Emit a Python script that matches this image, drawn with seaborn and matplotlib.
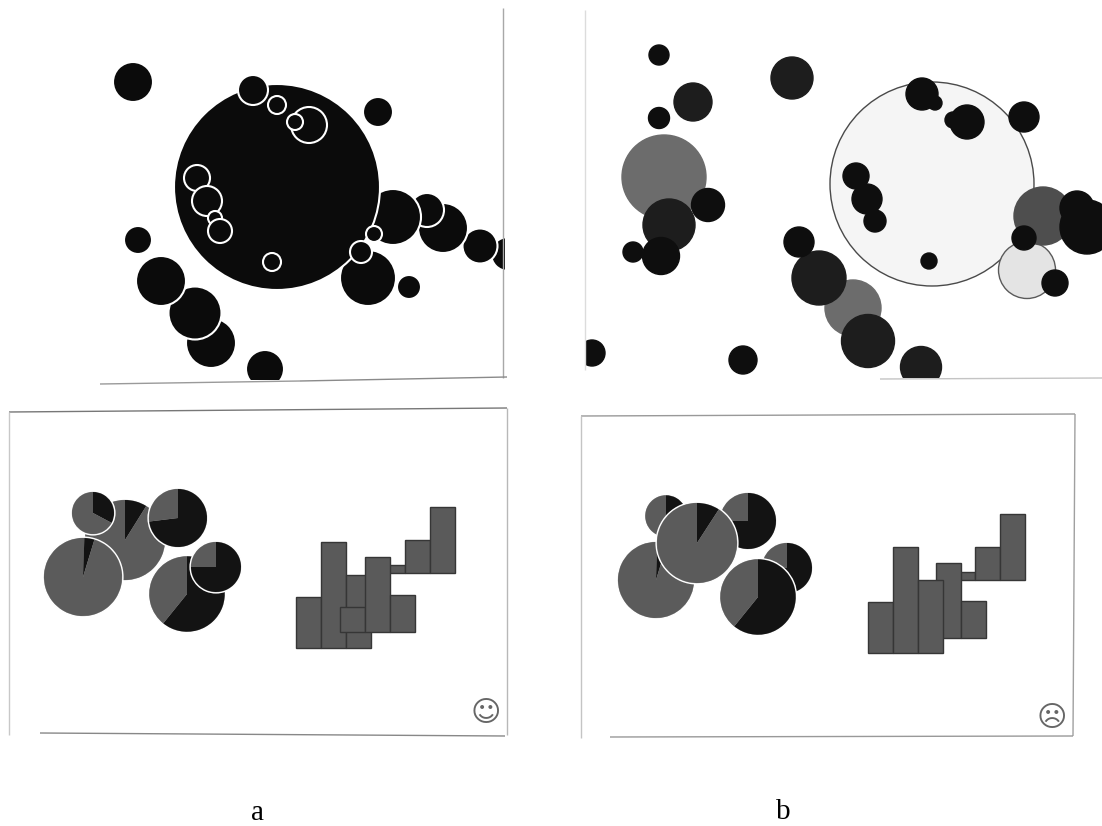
import matplotlib
matplotlib.use("Agg")
import matplotlib.pyplot as plt
from matplotlib.patches import Rectangle
import pandas as pd
import seaborn as sns

W, H = 1102, 826

# Panel a, circles in drawing order (pixel-scale measures)
a_x = [508, 480, 443, 427, 393, 368, 211, 195, 161, 138, 133, 378, 409, 265,
       277, 253, 277, 309, 295, 197, 207, 215, 220, 272, 374, 361]
a_y = [254, 246, 228, 210, 217, 278, 343, 313, 281, 240, 82, 112, 287, 369,
       187, 90, 105, 125, 122, 178, 201, 218, 231, 262, 234, 252]
a_r = [17, 17.5, 25, 17, 28, 28, 25, 26.5, 25, 14, 20, 15, 12, 19,
       103, 15, 9, 18, 8, 13, 15, 7, 12, 9, 8, 11]

# Panel b, circles in drawing order
b_x = [932, 1027, 1043, 1087, 1077, 1024, 1055, 922, 935, 967, 953, 1024, 856, 867, 875, 929,
       664, 708, 669, 633, 661, 659, 693, 659, 792,
       853, 819, 868, 799, 921, 743, 592]
b_y = [184, 270, 216, 227, 208, 238, 283, 94, 103, 122, 120, 117, 176, 199, 221, 261,
       177, 205, 225, 252, 256, 55, 102, 118, 78,
       308, 278, 341, 242, 367, 360, 353]
b_r = [102, 28.5, 29, 27, 17, 12, 13, 16, 7, 17, 8, 15, 13, 15, 11, 8,
       42, 16.5, 26, 10, 18.5, 10, 19, 10.5, 21,
       28, 27, 26.5, 15, 20.5, 14, 13]
b_tone = ["light", "pale", "mid", "black", "black", "black", "black", "black", "black",
          "black", "black", "black", "black", "black", "black", "black",
          "gray", "black", "dark", "black", "black", "black", "dark", "black", "dark",
          "gray", "dark", "dark", "black", "dark", "black", "black"]
tone_colors = {"black": "#0e0e0e", "dark": "#1d1d1d", "mid": "#4e4e4e",
               "gray": "#6c6c6c", "pale": "#e4e4e4", "light": "#f5f5f5"}
tone_edges = {"black": "#0e0e0e", "dark": "#1d1d1d", "mid": "#4e4e4e",
              "gray": "#6c6c6c", "pale": "#5a5a5a", "light": "#4a4a4a"}

# Lower panels: pies as (dark share in degrees clockwise from north)
pie_a_x = [125, 93, 83, 178, 187, 216]
pie_a_y = [540, 513, 577, 518, 594, 567]
pie_a_r = [40, 21, 39, 29, 37.7, 25]
pie_a_dark = [32, 118, 17, 263, 219, 270]
pie_a_skip = [0, 0, 2, 0, 0, 0]

pie_b_x = [748, 666, 656, 697, 787, 758]
pie_b_y = [521, 516, 580, 543, 568, 597]
pie_b_r = [28, 20.7, 38, 40, 25, 37.7]
pie_b_dark = [270, 60, 17, 33, 270, 219]
pie_b_skip = [0, 0, 2, 0, 0, 0]

# Lower panels: stepped histograms
hist_heights_1 = [51, 106, 73]
hist_heights_2 = [25, 75, 37]
hist_heights_3 = [8, 33, 66]
hist_a_left = [296, 340, 380]
hist_a_base = [648, 632, 573]
hist_b_left = [868, 911, 950]
hist_b_base = [653, 638, 580]

# Frame lines of the scanned panels: x0, y0, x1, y1, grey
frames = [
    (503, 8, 503, 378, "#a8a8a8"), (100, 384, 300, 381, "#9a9a9a"), (300, 381, 507, 377, "#8a8a8a"),
    (585, 10, 585, 370, "#dcdcdc"), (880, 379, 1102, 378, "#c4c4c4"),
    (9, 412, 507, 408, "#777777"), (9, 412, 9, 735, "#c8c8c8"), (507, 408, 507, 735, "#b8b8b8"),
    (40, 733, 505, 736, "#888888"),
    (581, 416, 1075, 414, "#999999"), (581, 416, 581, 738, "#c4c4c4"), (1075, 414, 1073, 736, "#a0a0a0"),
    (610, 737, 1073, 736, "#999999"),
]

sns.set_theme(style="white")
fig = plt.figure(figsize=(W / 100, H / 100), dpi=100, facecolor="white")


def pixel_axes(x0, y0, x1, y1):
    ax = fig.add_axes([x0 / W, 1 - y1 / H, (x1 - x0) / W, (y1 - y0) / H])
    ax.set_xlim(x0, x1)
    ax.set_ylim(y1, y0)
    ax.set_axis_off()
    ax.patch.set_alpha(0)
    return ax


def size_of(r):
    return (2 * r * 72 / 100) ** 2


def clip_to(ax, x0, y0, x1, y1):
    ax.set_xlim(x0, x1)
    ax.set_ylim(y1, y0)
    ax.set_axis_off()
    box = Rectangle((x0, y0), x1 - x0, y1 - y0, transform=ax.transData)
    for coll in ax.collections:
        coll.set_clip_path(box)


base = pixel_axes(0, 0, W, H)

# Panel a bubbles
ax_a = pixel_axes(90, 0, 505, 380)
df_a = pd.DataFrame({"x": a_x, "y": a_y, "r": a_r})
sns.scatterplot(data=df_a, x="x", y="y", s=[size_of(r) for r in a_r], color="#0b0b0b",
                edgecolor="white", linewidth=1.5, ax=ax_a, legend=False)
clip_to(ax_a, 90, 0, 505, 380)

# Panel b bubbles
ax_b = pixel_axes(586, 0, W, 378)
df_b = pd.DataFrame({"x": b_x, "y": b_y, "r": b_r, "tone": b_tone})
sns.scatterplot(data=df_b, x="x", y="y", hue="tone", palette=tone_colors,
                s=[size_of(r) for r in b_r], edgecolor=[tone_edges[t] for t in b_tone],
                linewidth=1.0, ax=ax_b, legend=False)
clip_to(ax_b, 586, 0, W, 378)

# Lower pies and histograms
low = pixel_axes(0, 400, W, 745)


def draw_pies(xs, ys, rs, darks, skips):
    for x, y, r, d, s in zip(xs, ys, rs, darks, skips):
        low.pie([1], center=(x, y), radius=r + 0.9, colors=["#a8a8a8"], frame=True)
        values = [s, d - s, 360 - d]
        low.pie(values, center=(x, y), radius=r, colors=["#5b5b5b", "#131313", "#5b5b5b"],
                startangle=-90, counterclock=True, frame=True, wedgeprops={"linewidth": 0})


def draw_hist(lefts, bases, order):
    heights = [hist_heights_1, hist_heights_2, hist_heights_3]
    for i in order:
        xs = [lefts[i] + 25 * k for k in range(3)]
        h = heights[i]
        low.bar(xs, h, bottom=[bases[i] - v for v in h], width=25, align="edge",
                color="#5a5a5a", edgecolor="#363636", linewidth=1.0)


draw_pies(pie_a_x, pie_a_y, pie_a_r, pie_a_dark, pie_a_skip)
draw_pies(pie_b_x, pie_b_y, pie_b_r, pie_b_dark, pie_b_skip)
draw_hist(hist_a_left, hist_a_base, [2, 0, 1])
draw_hist(hist_b_left, hist_b_base, [2, 1, 0])
low.set_xlim(0, W)
low.set_ylim(745, 400)
low.set_aspect("auto")
low.set_axis_off()

# Top layer: paper margins that trim the bubbles, frame lines, icons and letters
top = pixel_axes(0, 0, W, H)
top.add_patch(Rectangle((505, 225), 30, 60, facecolor="white", edgecolor="none"))
top.add_patch(Rectangle((565, 335), 20.5, 40, facecolor="white", edgecolor="none"))
for x0, y0, x1, y1, c in frames:
    top.plot([x0, x1], [y0, y1], color=c, lw=1.0, solid_capstyle="butt")
top.text(486, 713, "\u263a", fontsize=21, color="#666666", ha="center", va="center",
         family="DejaVu Sans")
top.text(1052, 718, "\u2639", fontsize=21, color="#666666", ha="center", va="center",
         family="DejaVu Sans")
top.text(258, 813, "a", fontsize=21, color="black", ha="center", va="center", family="Liberation Serif")
top.text(783, 812, "b", fontsize=21, color="black", ha="center", va="center", family="Liberation Serif")
top.set_xlim(0, W)
top.set_ylim(H, 0)

fig.savefig("out.png", dpi=100, facecolor="white")
